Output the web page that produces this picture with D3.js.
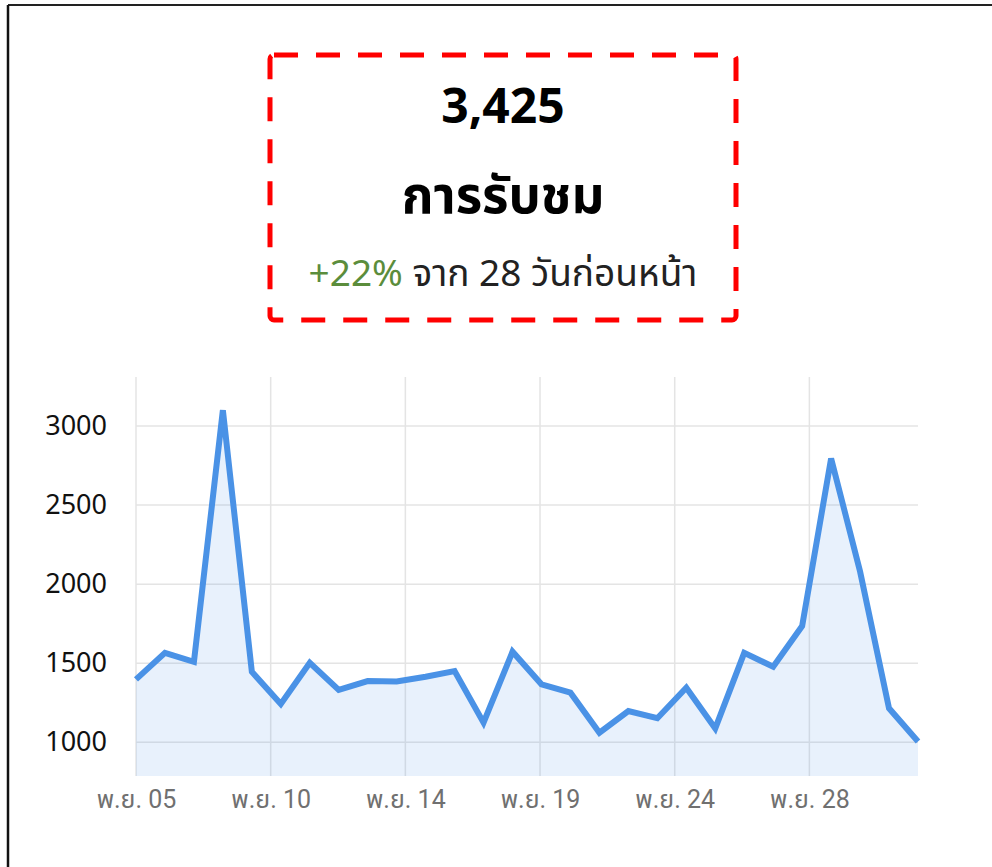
<!DOCTYPE html>
<html>
<head>
<meta charset="utf-8">
<script src="https://cdn.jsdelivr.net/npm/d3@7"></script>
<style>
  html, body { margin: 0; padding: 0; background: #fff; }
  svg { display: block; }
</style>
</head>
<body>
<svg id="chart" width="992" height="867"></svg>
<script>
// Daily views, 5 Nov onward (28 days)
const dayLabels = d3.range(28).map(i => i);
const views = [1398, 1566, 1509, 3100, 1446, 1242, 1503, 1331, 1387, 1385,
               1415, 1451, 1124, 1573, 1367, 1314, 1061, 1198, 1152, 1345,
               1088, 1566, 1478, 1735, 2795, 2080, 1215, 1005];

// Axis ticks
const yTicks = [1000, 1500, 2000, 2500, 3000];
const xTickValues = [0, 4.65, 9.3, 13.95, 18.6, 23.25];
const xTickLabels = ["พ.ย. 05", "พ.ย. 10", "พ.ย. 14", "พ.ย. 19", "พ.ย. 24", "พ.ย. 28"];

// Summary card
const totalViews = "3,425";
const metricName = "การรับชม";
const changeText = "+22%";
const changeSuffix = " จาก 28 วันก่อนหน้า";

const svg = d3.select("#chart");
const thaiFont = "'Noto Sans Thai', 'Noto Sans', 'DejaVu Sans', sans-serif";

// Page frame lines (top and left)
svg.append("line").attr("x1", 8).attr("x2", 992).attr("y1", 5).attr("y2", 5)
  .attr("stroke", "#222").attr("stroke-width", 2);
svg.append("line").attr("x1", 8).attr("x2", 8).attr("y1", 5).attr("y2", 867)
  .attr("stroke", "#111").attr("stroke-width", 2.5);

// Summary card with dashed red outline
svg.append("rect")
  .attr("x", 270).attr("y", 55).attr("width", 466).attr("height", 265)
  .attr("rx", 4)
  .attr("fill", "none").attr("stroke", "#ff0000").attr("stroke-width", 5)
  .attr("stroke-dasharray", "24 18");

svg.append("text")
  .attr("x", 503).attr("y", 123)
  .attr("text-anchor", "middle")
  .attr("font-family", thaiFont).attr("font-weight", "bold")
  .attr("font-size", 48).attr("fill", "#000")
  .text(totalViews);

svg.append("text")
  .attr("x", 503).attr("y", 213)
  .attr("text-anchor", "middle")
  .attr("font-family", thaiFont).attr("font-weight", "bold")
  .attr("font-size", 51).attr("fill", "#000")
  .text(metricName);

const sub = svg.append("text")
  .attr("x", 503).attr("y", 286)
  .attr("text-anchor", "middle")
  .attr("font-family", thaiFont)
  .attr("font-size", 37).attr("fill", "#222");
sub.append("tspan").attr("fill", "#5b8d3c").text(changeText);
sub.append("tspan").text(changeSuffix);

// Chart
const x = d3.scaleLinear().domain([0, 27]).range([136, 918]);
const y = d3.scaleLinear().domain([787, 3310]).range([776, 377]);

const grid = svg.append("g");
grid.selectAll("line.h").data(yTicks).join("line")
  .attr("class", "h")
  .attr("x1", x(0)).attr("x2", x(27))
  .attr("y1", d => y(d)).attr("y2", d => y(d))
  .attr("stroke", "#e4e4e4").attr("stroke-width", 1.5);
grid.selectAll("line.v").data(xTickValues).join("line")
  .attr("class", "v")
  .attr("x1", d => x(d)).attr("x2", d => x(d))
  .attr("y1", y.range()[1]).attr("y2", y.range()[0])
  .attr("stroke", "#e4e4e4").attr("stroke-width", 1.5);

const area = d3.area()
  .x((d, i) => x(dayLabels[i]))
  .y0(y.range()[0])
  .y1(d => y(d));
svg.append("path").datum(views)
  .attr("d", area)
  .attr("fill", "rgba(74,146,230,0.13)");

const line = d3.line()
  .x((d, i) => x(dayLabels[i]))
  .y(d => y(d));
svg.append("path").datum(views)
  .attr("d", line)
  .attr("fill", "none")
  .attr("stroke", "#4a92e6")
  .attr("stroke-width", 6)
  .attr("stroke-linejoin", "miter");

// Y axis labels
const yAxis = d3.axisLeft(y).tickValues(yTicks).tickFormat(d3.format("d"))
  .tickSize(0).tickPadding(0);
const yg = svg.append("g").attr("transform", "translate(107,0)").call(yAxis);
yg.select(".domain").remove();
yg.selectAll("text")
  .attr("font-family", thaiFont).attr("font-size", 27).attr("fill", "#111");

// X axis labels
const xAxis = d3.axisBottom(x).tickValues(xTickValues)
  .tickFormat((d, i) => xTickLabels[i]).tickSize(0).tickPadding(0);
const xg = svg.append("g").attr("transform", "translate(0,790)").call(xAxis);
xg.select(".domain").remove();
xg.selectAll("text")
  .attr("font-family", "Roboto, " + thaiFont).attr("font-size", 25).attr("fill", "#707070");
</script>
</body>
</html>
